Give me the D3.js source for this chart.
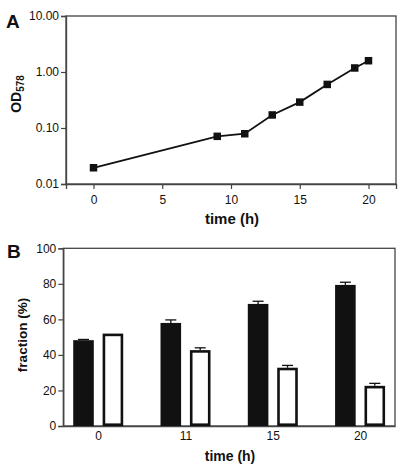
<!DOCTYPE html>
<html><head><meta charset="utf-8">
<script src="https://cdn.jsdelivr.net/npm/d3@7"></script>
<style>body{margin:0;background:#fff}svg{display:block}text{font-family:Arial,"Liberation Sans",sans-serif}</style>
</head><body>
<svg id="c" width="411" height="472"></svg>
<script>
// Panel A data
const timeA = [0, 9, 11, 13, 15, 17, 19, 20];
const odA = [0.0195, 0.071, 0.079, 0.171, 0.29, 0.60, 1.18, 1.59];
const yTicksA = [0.01, 0.1, 1, 10];
const xTicksA = [0, 5, 10, 15, 20];
// Panel B data
const timesB = ["0", "11", "15", "20"];
const seriesB = ["filled", "open"];
const filledB = [48.3, 58.0, 68.7, 79.4];
const filledErrB = [0.4, 1.7, 1.5, 1.5];
const openB = [52.0, 42.7, 32.8, 22.6];
const openErrB = [0, 1.3, 1.3, 1.4];
const yTicksB = [0, 20, 40, 60, 80, 100];

const svg = d3.select("#c");
const ink = "#111";

// ---------- Panel A ----------
const xA = d3.scaleLinear().domain([-2, 22]).range([66, 396]);
const yA = d3.scaleLog().domain([0.01, 10]).range([184, 16]);
const gA = svg.append("g");
gA.append("rect").attr("x", xA.range()[0]).attr("y", yA.range()[1])
  .attr("width", xA.range()[1] - xA.range()[0]).attr("height", yA.range()[0] - yA.range()[1])
  .attr("fill", "none").attr("stroke", "#444").attr("stroke-width", 1.3);
const axYA = gA.append("g").attr("transform", `translate(${xA.range()[0]},0)`)
  .call(d3.axisLeft(yA).tickValues(yTicksA).tickFormat(d3.format(".2f")).tickSize(5).tickPadding(2));
const axXA = gA.append("g").attr("transform", `translate(0,${yA.range()[0]})`)
  .call(d3.axisBottom(xA).tickValues(xTicksA).tickSize(5).tickPadding(6));
[axYA, axXA].forEach(a => {
  a.select(".domain").attr("stroke", "#444").attr("stroke-width", 1.3);
  a.selectAll(".tick line").attr("stroke", "#444").attr("stroke-width", 1.2);
  a.selectAll("text").attr("font-size", 12).attr("fill", ink).attr("font-family", "Arial, 'Liberation Sans', sans-serif");
});
gA.append("path").datum(timeA.map((t, i) => [t, odA[i]]))
  .attr("fill", "none").attr("stroke", ink).attr("stroke-width", 1.8)
  .attr("d", d3.line().x(d => xA(d[0])).y(d => yA(d[1])));
gA.selectAll("rect.pt").data(timeA.map((t, i) => [t, odA[i]])).join("rect").attr("class", "pt")
  .attr("x", d => xA(d[0]) - 3.75).attr("y", d => yA(d[1]) - 3.75)
  .attr("width", 7.5).attr("height", 7.5).attr("fill", ink);
gA.append("text").attr("x", 6).attr("y", 28).attr("font-size", 19).attr("font-weight", "bold").attr("fill", ink).text("A");
const odLab = gA.append("text").attr("transform", "translate(21,94) rotate(-90)")
  .attr("text-anchor", "middle").attr("font-size", 14).attr("font-weight", "bold").attr("fill", ink);
odLab.append("tspan").text("OD");
odLab.append("tspan").attr("font-size", 10).attr("dy", 3).text("578");
gA.append("text").attr("x", 232).attr("y", 224).attr("text-anchor", "middle")
  .attr("font-size", 15).attr("font-weight", "bold").attr("fill", ink).text("time (h)");

// ---------- Panel B ----------
const xB = d3.scalePoint().domain(timesB).range([63.3, 395]).padding(0.4);
const xSub = d3.scaleBand().domain(seriesB).range([-25, 25]).paddingInner(0.3);
const yB = d3.scaleLinear().domain([0, 100]).range([426, 248.3]);
const gB = svg.append("g");
gB.append("rect").attr("x", xB.range()[0]).attr("y", yB.range()[1])
  .attr("width", xB.range()[1] - xB.range()[0]).attr("height", yB.range()[0] - yB.range()[1])
  .attr("fill", "none").attr("stroke", "#444").attr("stroke-width", 1.3);
const axYB = gB.append("g").attr("transform", `translate(${xB.range()[0]},0)`)
  .call(d3.axisLeft(yB).tickValues(yTicksB).tickSize(5).tickPadding(2));
const axXB = gB.append("g").attr("transform", `translate(0,${yB.range()[0]})`)
  .call(d3.axisBottom(xB).tickSize(0).tickPadding(5));
[axYB, axXB].forEach(a => {
  a.select(".domain").attr("stroke", "#444").attr("stroke-width", 1.3);
  a.selectAll(".tick line").attr("stroke", "#444").attr("stroke-width", 1.2);
  a.selectAll("text").attr("font-size", 12).attr("fill", ink).attr("font-family", "Arial, 'Liberation Sans', sans-serif");
});
const bw = xSub.bandwidth();
const sw = 2.6;
const rows = timesB.map((t, i) => ({t, f: filledB[i], fe: filledErrB[i], o: openB[i], oe: openErrB[i]}));
// error bars (upward only)
const errs = [];
rows.forEach(r => {
  errs.push({cx: xB(r.t) + xSub("filled") + bw / 2, v: r.f, e: r.fe});
  errs.push({cx: xB(r.t) + xSub("open") + bw / 2, v: r.o, e: r.oe});
});
const eg = gB.selectAll("g.err").data(errs.filter(d => d.e > 0)).join("g").attr("class", "err")
  .attr("stroke", ink).attr("stroke-width", 1.3);
eg.append("line").attr("x1", d => d.cx).attr("x2", d => d.cx).attr("y1", d => yB(d.v)).attr("y2", d => yB(d.v + d.e));
eg.append("line").attr("x1", d => d.cx - 5.5).attr("x2", d => d.cx + 5.5).attr("y1", d => yB(d.v + d.e)).attr("y2", d => yB(d.v + d.e));
gB.selectAll("rect.fb").data(rows).join("rect").attr("class", "fb")
  .attr("x", d => xB(d.t) + xSub("filled")).attr("y", d => yB(d.f))
  .attr("width", bw).attr("height", d => yB(0) - yB(d.f)).attr("fill", ink);
gB.selectAll("rect.ob").data(rows).join("rect").attr("class", "ob")
  .attr("x", d => xB(d.t) + xSub("open") + sw / 2).attr("y", d => yB(d.o) + sw / 2)
  .attr("width", bw - sw).attr("height", d => yB(0) - yB(d.o) - sw)
  .attr("fill", "#fff").attr("stroke", ink).attr("stroke-width", sw);
gB.append("text").attr("x", 7).attr("y", 258).attr("font-size", 19).attr("font-weight", "bold").attr("fill", ink).text("B");
gB.append("text").attr("transform", "translate(27,335) rotate(-90)").attr("text-anchor", "middle")
  .attr("font-size", 13.5).attr("font-weight", "bold").attr("fill", ink).text("fraction (%)");
gB.append("text").attr("x", 230).attr("y", 461).attr("text-anchor", "middle")
  .attr("font-size", 14).attr("font-weight", "bold").attr("fill", ink).text("time (h)");
</script>
</body></html>
